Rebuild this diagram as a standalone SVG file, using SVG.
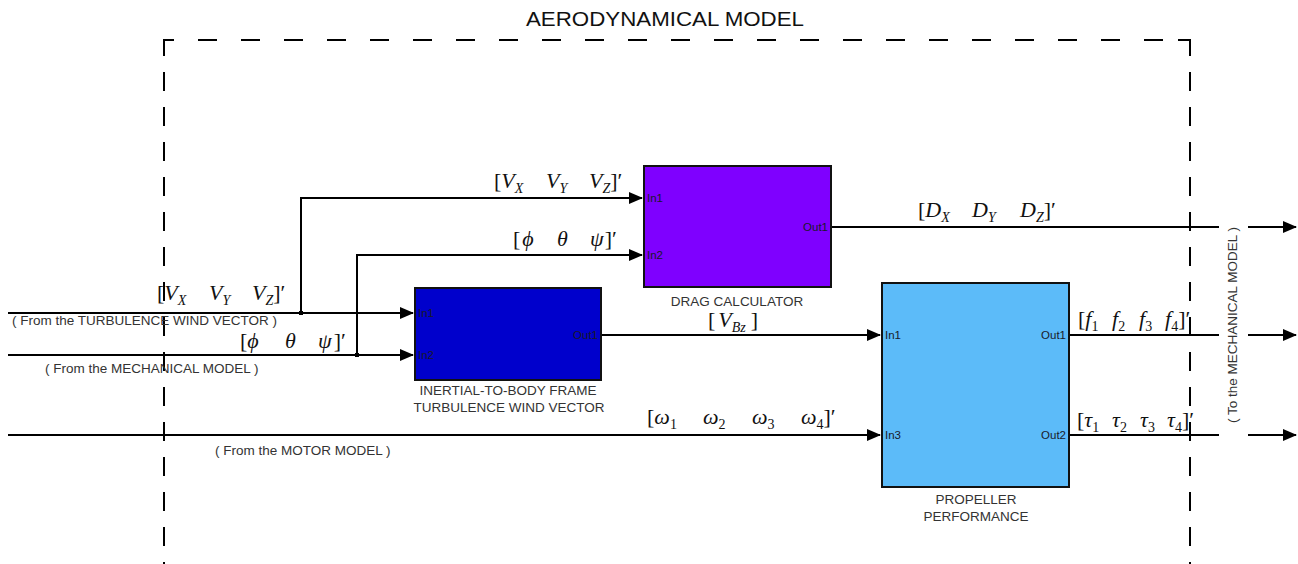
<svg xmlns="http://www.w3.org/2000/svg" width="1298" height="564" viewBox="0 0 1298 564">
<style>
.blk{stroke:#111;stroke-width:2}
.ln{stroke:#000;stroke-width:2;fill:none}
.frm{stroke:#000;stroke-width:2;fill:none}
.port{font-family:"Liberation Sans",Arial,sans-serif;font-size:11.5px;fill:#1a1a2a}
.cap{font-family:"Liberation Sans",Arial,sans-serif;font-size:13.5px;fill:#333;text-anchor:middle}
.note{font-family:"Liberation Sans",Arial,sans-serif;font-size:13.5px;fill:#333}
.m{font-family:"Liberation Serif","Times New Roman",serif;font-size:22px;font-style:italic;fill:#111}
.u{font-style:normal}
.s{font-size:14px}
.su{font-size:14px;font-style:normal}
</style>
<defs>
<marker id="arr" markerUnits="userSpaceOnUse" markerWidth="14" markerHeight="12" refX="13" refY="6" orient="auto">
<path d="M0,0 L14,6 L0,12 Z" fill="#000"/>
</marker>
</defs>
<rect width="1298" height="564" fill="#fff"/>

<text x="665" y="26" font-family="Liberation Sans,Arial,sans-serif" font-size="20" fill="#111" text-anchor="middle" textLength="278" lengthAdjust="spacingAndGlyphs">AERODYNAMICAL MODEL</text>

<g id="connectors">
<path class="ln" d="M8,313 H413" marker-end="url(#arr)"/>
<path class="ln" d="M301,313 V198 H642" marker-end="url(#arr)"/>
<path class="ln" d="M8,355 H413" marker-end="url(#arr)"/>
<path class="ln" d="M357,355 V255 H642" marker-end="url(#arr)"/>
<rect x="299" y="311" width="4" height="4" fill="#000"/>
<rect x="355" y="353" width="4" height="4" fill="#000"/>
<path class="ln" d="M601,335 H880" marker-end="url(#arr)"/>
<path class="ln" d="M8,435 H880" marker-end="url(#arr)"/>
<path class="ln" d="M831,227 H1219"/>
<path class="ln" d="M1248,227 H1296" marker-end="url(#arr)"/>
<path class="ln" d="M1069,335 H1219"/>
<path class="ln" d="M1248,335 H1296" marker-end="url(#arr)"/>
<path class="ln" d="M1069,435 H1219"/>
<path class="ln" d="M1248,435 H1296" marker-end="url(#arr)"/>
</g>

<g id="frame">
<path class="frm" d="M164,56 V40 H174"/>
<path class="frm" d="M198,40 H1166" stroke-dasharray="19 24"/>
<path class="frm" d="M1178,40 H1190 V56"/>
<path class="frm" d="M164,72 V564" stroke-dasharray="19 16"/>
<path class="frm" d="M1190,72 V564" stroke-dasharray="19 16"/>
</g>

<g id="inertial">
<rect class="blk" x="415" y="288" width="186" height="92" fill="#0000CC"/>
<text class="port" x="418" y="317">In1</text>
<text class="port" x="418" y="359">In2</text>
<text class="port" x="598" y="339" text-anchor="end">Out1</text>
<text class="cap" x="508" y="395">INERTIAL-TO-BODY FRAME</text>
<text class="cap" x="509" y="412">TURBULENCE WIND VECTOR</text>
</g>

<g id="drag">
<rect class="blk" x="644" y="166" width="187" height="121" fill="#7F00FF"/>
<text class="port" x="647" y="202">In1</text>
<text class="port" x="647" y="259">In2</text>
<text class="port" x="828" y="231" text-anchor="end">Out1</text>
<text class="cap" x="737" y="306">DRAG CALCULATOR</text>
</g>

<g id="propeller">
<rect class="blk" x="882" y="283" width="187" height="204" fill="#5CBBF9"/>
<text class="port" x="885" y="339">In1</text>
<text class="port" x="885" y="439">In3</text>
<text class="port" x="1066" y="339" text-anchor="end">Out1</text>
<text class="port" x="1066" y="439" text-anchor="end">Out2</text>
<text class="cap" x="976" y="504">PROPELLER</text>
<text class="cap" x="976" y="521">PERFORMANCE</text>
</g>

<g id="notes">
<text class="note" x="12" y="325">( From the TURBULENCE WIND VECTOR )</text>
<text class="note" x="45" y="373">( From the MECHANICAL MODEL )</text>
<text class="note" x="215" y="455">( From the MOTOR MODEL )</text>
<text class="note" transform="translate(1237,325) rotate(-90)" text-anchor="middle">( To the MECHANICAL MODEL )</text>
</g>

<g id="math">
<text class="m" x="157" y="300"><tspan class="u">[</tspan><tspan>V</tspan><tspan class="s" y="305">X</tspan><tspan x="209" y="300">V</tspan><tspan class="s" y="305">Y</tspan><tspan x="252" y="300">V</tspan><tspan class="s" y="305">Z</tspan><tspan class="u" y="300">]′</tspan></text>
<text class="m" x="494" y="188"><tspan class="u">[</tspan><tspan>V</tspan><tspan class="s" y="193">X</tspan><tspan x="546" y="188">V</tspan><tspan class="s" y="193">Y</tspan><tspan x="589" y="188">V</tspan><tspan class="s" y="193">Z</tspan><tspan class="u" y="188">]′</tspan></text>
<text class="m" x="240" y="348"><tspan class="u">[</tspan><tspan>ϕ</tspan><tspan x="285">θ</tspan><tspan x="318">ψ</tspan><tspan class="u" dx="2">]′</tspan></text>
<text class="m" x="513" y="246"><tspan class="u">[</tspan><tspan dx="2">ϕ</tspan><tspan x="557">θ</tspan><tspan x="590">ψ</tspan><tspan class="u" dx="1">]′</tspan></text>
<text class="m" x="918" y="217"><tspan class="u">[</tspan><tspan>D</tspan><tspan class="s" y="222">X</tspan><tspan x="972" y="217">D</tspan><tspan class="s" y="222">Y</tspan><tspan x="1020" y="217">D</tspan><tspan class="s" y="222">Z</tspan><tspan class="u" y="217">]′</tspan></text>
<text class="m" x="708" y="327"><tspan class="u">[</tspan><tspan dx="3">V</tspan><tspan class="s" y="332">Bz</tspan><tspan class="u" dx="5" y="327">]</tspan></text>
<text class="m" x="1078" y="326"><tspan class="u">[</tspan><tspan>f</tspan><tspan class="su" y="331">1</tspan><tspan x="1112" y="326">f</tspan><tspan class="su" y="331">2</tspan><tspan x="1139" y="326">f</tspan><tspan class="su" y="331">3</tspan><tspan x="1165" y="326">f</tspan><tspan class="su" y="331">4</tspan><tspan class="u" y="326">]′</tspan></text>
<text class="m" x="1077" y="427"><tspan class="u">[</tspan><tspan>τ</tspan><tspan class="su" y="432">1</tspan><tspan x="1112" y="427">τ</tspan><tspan class="su" y="432">2</tspan><tspan x="1140" y="427">τ</tspan><tspan class="su" y="432">3</tspan><tspan x="1167" y="427">τ</tspan><tspan class="su" y="432">4</tspan><tspan class="u" y="427">]′</tspan></text>
<text class="m" x="647" y="424"><tspan class="u">[</tspan><tspan>ω</tspan><tspan class="su" y="429">1</tspan><tspan x="703" y="424">ω</tspan><tspan class="su" y="429">2</tspan><tspan x="752" y="424">ω</tspan><tspan class="su" y="429">3</tspan><tspan x="801" y="424">ω</tspan><tspan class="su" y="429">4</tspan><tspan class="u" y="424">]′</tspan></text>
</g>
</svg>
